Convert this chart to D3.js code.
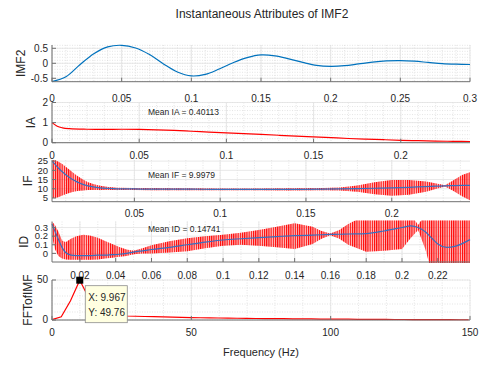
<!DOCTYPE html>
<html>
<head>
<meta charset="utf-8">
<script src="https://cdn.jsdelivr.net/npm/d3@7"></script>
<style>
    body { margin: 0; background: #fff; }
    text { font-family: "Liberation Sans", Arial, Helvetica, sans-serif; fill: #262626; }
</style>
</head>
<body>
<div id="chart"></div>
<script>
//IMF2 signal (time in s)
const imfTime = [0, 0.01, 0.02, 0.03, 0.04, 0.05, 0.06, 0.07, 0.08, 0.09, 0.10, 0.11, 0.12, 0.13, 0.14, 0.15,
    0.16, 0.17, 0.18, 0.19, 0.20, 0.21, 0.22, 0.23, 0.24, 0.25, 0.26, 0.27, 0.28, 0.29, 0.30];
const imfValue = [-0.61, -0.45, -0.05, 0.32, 0.55, 0.60, 0.51, 0.29, -0.02, -0.29, -0.42, -0.37, -0.19, 0.02, 0.19, 0.28,
    0.25, 0.15, 0.03, -0.07, -0.10, -0.08, -0.02, 0.04, 0.08, 0.09, 0.07, 0.03, -0.01, -0.03, -0.04];

//Instantaneous amplitude
const iaTime = [0, 0.003, 0.006, 0.01, 0.02, 0.03, 0.04, 0.05, 0.06, 0.07, 0.08, 0.09, 0.10, 0.11, 0.12, 0.13,
    0.14, 0.15, 0.16, 0.17, 0.18, 0.19, 0.20, 0.21, 0.22, 0.23, 0.2397];
const iaValue = [1.0, 0.82, 0.74, 0.70, 0.67, 0.66, 0.67, 0.66, 0.64, 0.61, 0.57, 0.53, 0.49, 0.45, 0.41, 0.37,
    0.33, 0.29, 0.25, 0.21, 0.18, 0.15, 0.12, 0.10, 0.08, 0.07, 0.06];

//Instantaneous frequency: smoothed line and the range of the raw oscillation
const ifTime = [0.002, 0.004, 0.006, 0.008, 0.010, 0.012, 0.014, 0.016, 0.018, 0.020, 0.023, 0.026, 0.030, 0.035,
    0.040, 0.050, 0.060, 0.080, 0.100, 0.120, 0.140, 0.160, 0.170, 0.180, 0.190, 0.200, 0.210, 0.220, 0.226,
    0.231, 0.236, 0.241, 0.2456];
const ifSmooth = [25, 23, 21, 19.2, 17.6, 16.2, 15, 14, 13.1, 12.4, 11.6, 11, 10.5, 10.2,
    10.0, 9.9, 9.8, 9.8, 9.7, 9.7, 9.7, 9.8, 9.9, 10.1, 10.3, 10.5, 10.8, 11.2, 11.4,
    11.6, 11.7, 11.8, 11.9];
const ifRawHigh = [25.6, 25.4, 24.5, 23.4, 22, 20.5, 19, 17.5, 16.2, 15, 13.6, 12.6, 11.6, 10.9,
    10.6, 10.4, 10.4, 10.3, 10.2, 10.2, 10.3, 10.4, 10.7, 11.8, 13.5, 14.8, 14.8, 14, 12.8,
    11.9, 14.6, 17.5, 19];
const ifRawLow = [5, 5, 5.6, 6.3, 7, 7.7, 8.2, 8.6, 8.9, 9.1, 9.3, 9.4, 9.4, 9.4,
    9.4, 9.3, 9.2, 9.2, 9.2, 9.2, 9.1, 9.2, 9.1, 8.4, 7.1, 6.2, 6.8, 8.4, 10,
    11.3, 8.8, 6, 3.8];

//Instantaneous damping
const idTime = [0.0044, 0.006, 0.008, 0.010, 0.012, 0.015, 0.018, 0.022, 0.026, 0.030, 0.034, 0.038, 0.042, 0.046,
    0.050, 0.055, 0.060, 0.070, 0.080, 0.090, 0.100, 0.110, 0.120, 0.130, 0.140, 0.150, 0.155, 0.160, 0.165,
    0.170, 0.180, 0.190, 0.200, 0.205, 0.209, 0.213, 0.217, 0.220, 0.225, 0.230, 0.238];
const idSmooth = [0.34, 0.26, 0.16, 0.07, 0.01, -0.02, -0.025, -0.025, -0.025, -0.02, -0.02, -0.015, -0.01, 0.0,
    0.015, 0.03, 0.045, 0.07, 0.10, 0.13, 0.155, 0.17, 0.183, 0.195, 0.205, 0.212, 0.216, 0.22, 0.222,
    0.225, 0.23, 0.26, 0.30, 0.32, 0.30, 0.25, 0.17, 0.11, 0.07, 0.085, 0.16];
const idRawHigh = [0.37, 0.33, 0.25, 0.15, 0.13, 0.17, 0.20, 0.215, 0.205, 0.18, 0.145, 0.11, 0.075, 0.045,
    0.03, 0.06, 0.095, 0.14, 0.175, 0.20, 0.215, 0.24, 0.27, 0.31, 0.35, 0.31, 0.26, 0.23, 0.27,
    0.34, 0.45, 0.48, 0.50, 0.45, 0.33, 0.45, 0.6, 0.6, 0.6, 0.6, 0.6];
const idRawLow = [0.20, 0.05, -0.03, -0.06, -0.07, -0.075, -0.075, -0.075, -0.075, -0.07, -0.06, -0.05, -0.04, -0.03,
    -0.01, 0.0, 0.0, 0.01, 0.025, 0.06, 0.09, 0.10, 0.09, 0.07, 0.05, 0.11, 0.17, 0.21, 0.17,
    0.10, 0.02, 0.03, 0.05, 0.18, 0.27, 0.05, -0.25, -0.3, -0.3, -0.3, -0.3];

//Spectrum of IMF2
const fftFreq = [0, 3.32, 6.64, 9.967, 13.29, 16.61, 19.93, 23.26, 26.58, 29.90, 33.22, 36.55, 39.87, 43.19,
    46.51, 49.83, 53.16, 56.48, 59.80, 63.12, 66.45, 69.77, 73.09, 76.41, 79.74, 83.06, 86.38, 89.70,
    93.03, 96.35, 99.67, 102.99, 106.32, 109.64, 112.96, 116.28, 119.60, 122.93, 126.25, 129.57,
    132.89, 136.22, 139.54, 142.86, 146.18, 149.51];
const fftValue = [0.5, 4, 24, 49.76, 27, 11, 7, 5.6, 5, 4.7, 4.4, 4.1, 3.8, 3.5,
    3.2, 3.0, 2.8, 2.6, 2.5, 2.3, 2.2, 2.0, 1.9, 1.8, 1.7, 1.6, 1.5, 1.4,
    1.3, 1.2, 1.15, 1.05, 1.0, 0.9, 0.85, 0.8, 0.7, 0.65, 0.6, 0.55,
    0.5, 0.45, 0.4, 0.35, 0.32, 0.3];

//Tick values
const imfXTicks = [0, 0.05, 0.1, 0.15, 0.2, 0.25, 0.3];
const imfYTicks = [-0.5, 0, 0.5];
const iaXTicks = [0, 0.05, 0.1, 0.15, 0.2];
const iaYTicks = [0, 1, 2];
const ifXTicks = [0.05, 0.1, 0.15, 0.2];
const ifYTicks = [5, 10, 15, 20, 25];
const idXTicks = [0.02, 0.04, 0.06, 0.08, 0.1, 0.12, 0.14, 0.16, 0.18, 0.2, 0.22];
const idYTicks = [0, 0.1, 0.2, 0.3];
const fftXTicks = [0, 50, 100, 150];
const fftYTicks = [0, 50];

const svg = d3.select("#chart").append("svg")
    .attr("width", 482)
    .attr("height", 365)
    .style("background", "#fff");

const defs = svg.append("defs");
//Dense red hatching for the raw oscillating traces
const hatch = defs.append("pattern")
    .attr("id", "red-hatch")
    .attr("patternUnits", "userSpaceOnUse")
    .attr("width", 2.2)
    .attr("height", 20);
hatch.append("rect")
    .attr("width", 1.1)
    .attr("height", 20)
    .attr("fill", "#ff0000");

const plotLeft = 52, plotRight = 470;
const red = "#ff0000", blue = "#0072bd";

function steps(lo, hi, step) {
    let n = Math.round((hi - lo) / step);
    return d3.range(n + 1).map(i => +(lo + i * step).toFixed(6));
}

function makePanel(cfg) {
    const x = d3.scaleLinear().domain(cfg.xDomain).range([plotLeft, plotRight]);
    const y = d3.scaleLinear().domain(cfg.yDomain).range([cfg.bottom, cfg.top]);
    const g = svg.append("g").attr("id", "panel-" + cfg.id);
    const inX = d => d >= cfg.xDomain[0] - 1e-9 && d <= cfg.xDomain[1] + 1e-9;
    const inY = d => d >= cfg.yDomain[0] - 1e-9 && d <= cfg.yDomain[1] + 1e-9;

    //Minor grid (dotted)
    g.selectAll(".x-minor")
        .data(cfg.xMinor.filter(inX))
        .enter().append("line")
        .attr("x1", d => x(d)).attr("x2", d => x(d))
        .attr("y1", cfg.top).attr("y2", cfg.bottom)
        .attr("stroke", "#d4d4d4").attr("stroke-width", 0.6)
        .attr("stroke-dasharray", "1,1.5");
    g.selectAll(".y-minor")
        .data(cfg.yMinor.filter(inY))
        .enter().append("line")
        .attr("x1", plotLeft).attr("x2", plotRight)
        .attr("y1", d => y(d)).attr("y2", d => y(d))
        .attr("stroke", "#d4d4d4").attr("stroke-width", 0.6)
        .attr("stroke-dasharray", "1,1.5");

    //Major grid
    g.selectAll(".x-major")
        .data(cfg.xTicks)
        .enter().append("line")
        .attr("x1", d => x(d)).attr("x2", d => x(d))
        .attr("y1", cfg.top).attr("y2", cfg.bottom)
        .attr("stroke", "#e2e2e2").attr("stroke-width", 0.8);
    g.selectAll(".y-major")
        .data(cfg.yTicks)
        .enter().append("line")
        .attr("x1", plotLeft).attr("x2", plotRight)
        .attr("y1", d => y(d)).attr("y2", d => y(d))
        .attr("stroke", "#e2e2e2").attr("stroke-width", 0.8);

    g.append("clipPath")
        .attr("id", "clip-" + cfg.id)
        .append("rect")
        .attr("x", plotLeft - 1)
        .attr("y", cfg.top - 1)
        .attr("width", plotRight - plotLeft + 2)
        .attr("height", cfg.bottom - cfg.top + 2);

    const data = g.append("g").attr("clip-path", "url(#clip-" + cfg.id + ")");
    const axes = g.append("g");

    //Axis lines and inward ticks
    axes.append("line")
        .attr("x1", plotLeft).attr("x2", plotRight)
        .attr("y1", cfg.bottom).attr("y2", cfg.bottom)
        .attr("stroke", "#707070");
    axes.append("line")
        .attr("x1", plotLeft).attr("x2", plotLeft)
        .attr("y1", cfg.top).attr("y2", cfg.bottom)
        .attr("stroke", "#707070");
    axes.selectAll(".x-tick")
        .data(cfg.xTicks)
        .enter().append("line")
        .attr("x1", d => x(d)).attr("x2", d => x(d))
        .attr("y1", cfg.bottom).attr("y2", cfg.bottom - 4)
        .attr("stroke", "#707070");
    axes.selectAll(".y-tick")
        .data(cfg.yTicks)
        .enter().append("line")
        .attr("x1", plotLeft).attr("x2", plotLeft + 4)
        .attr("y1", d => y(d)).attr("y2", d => y(d))
        .attr("stroke", "#707070");

    //Tick labels
    axes.selectAll(".x-label")
        .data(cfg.xTicks)
        .enter().append("text")
        .attr("x", d => x(d))
        .attr("y", cfg.xLabelY + 3.5)
        .attr("text-anchor", "middle")
        .style("font-size", "10px")
        .text(d => String(d));
    axes.selectAll(".y-label")
        .data(cfg.yTicks)
        .enter().append("text")
        .attr("x", plotLeft - 4)
        .attr("y", d => y(d) + 3.2)
        .attr("text-anchor", "end")
        .style("font-size", (cfg.yFont || 10) + "px")
        .text(d => String(d));

    //Y axis title
    axes.append("text")
        .attr("transform", "translate(" + cfg.titleX + "," + (cfg.top + cfg.bottom) / 2 + ") rotate(-90)")
        .attr("dy", "0.35em")
        .attr("text-anchor", "middle")
        .style("font-size", "12px")
        .text(cfg.label);

    return {x: x, y: y, data: data, axes: axes};
}

function rawTrace(p, time, high, low) {
    const area = d3.area()
        .x((d, i) => p.x(time[i]))
        .y0((d, i) => p.y(low[i]))
        .y1((d, i) => p.y(high[i]));
    p.data.append("path")
        .datum(time)
        .attr("d", area)
        .attr("fill", red)
        .attr("fill-opacity", 0.22);
    p.data.append("path")
        .datum(time)
        .attr("d", area)
        .attr("fill", "url(#red-hatch)");
}

function lineTrace(p, time, values, color, curve) {
    p.data.append("path")
        .datum(values)
        .attr("d", d3.line()
            .x((d, i) => p.x(time[i]))
            .y(d => p.y(d))
            .curve(curve || d3.curveLinear))
        .attr("fill", "none")
        .attr("stroke", color)
        .attr("stroke-width", 1.2);
}

function meanNote(p, yPos, label) {
    p.axes.append("text")
        .attr("x", 148)
        .attr("y", yPos)
        .style("font-size", "8.5px")
        .text(label);
}

//Title
svg.append("text")
    .attr("x", 262)
    .attr("y", 18)
    .attr("text-anchor", "middle")
    .style("font-size", "12px")
    .text("Instantaneous Attributes of IMF2");

//IMF2 panel
const imfPanel = makePanel({
    id: "imf", label: "IMF2", titleX: 21,
    top: 45, bottom: 81.7, xLabelY: 98,
    xDomain: [0, 0.3], yDomain: [-0.613, 0.61],
    xTicks: imfXTicks, yTicks: imfYTicks,
    xMinor: steps(0, 0.3, 0.01), yMinor: steps(-0.6, 0.6, 0.1)
});
lineTrace(imfPanel, imfTime, imfValue, blue, d3.curveCatmullRom);

//IA panel
const iaPanel = makePanel({
    id: "ia", label: "IA", titleX: 31,
    top: 102.5, bottom: 142.7, xLabelY: 155,
    xDomain: [0, 0.2397], yDomain: [0, 2],
    xTicks: iaXTicks, yTicks: iaYTicks,
    xMinor: steps(0, 0.23, 0.01), yMinor: steps(0, 2, 0.2)
});
lineTrace(iaPanel, iaTime, iaValue, red, d3.curveMonotoneX);
meanNote(iaPanel, 115, "Mean IA = 0.40113");

//IF panel
const ifPanel = makePanel({
    id: "if", label: "IF", titleX: 28, yFont: 9.5,
    top: 160, bottom: 201.7, xLabelY: 213,
    xDomain: [0.002, 0.2456], yDomain: [3, 25.6],
    xTicks: ifXTicks, yTicks: ifYTicks,
    xMinor: steps(0.01, 0.24, 0.01), yMinor: []
});
rawTrace(ifPanel, ifTime, ifRawHigh, ifRawLow);
lineTrace(ifPanel, ifTime, ifSmooth, "#3a6fbf", d3.curveMonotoneX);
meanNote(ifPanel, 178, "Mean IF = 9.9979");

//ID panel
const idPanel = makePanel({
    id: "id", label: "ID", titleX: 24, yFont: 9.5,
    top: 221.5, bottom: 262, xLabelY: 275,
    xDomain: [0.0044, 0.238], yDomain: [-0.1, 0.37],
    xTicks: idXTicks, yTicks: idYTicks,
    xMinor: steps(0.01, 0.23, 0.01), yMinor: []
});
rawTrace(idPanel, idTime, idRawHigh, idRawLow);
lineTrace(idPanel, idTime, idSmooth, "#3a6fbf", d3.curveMonotoneX);
meanNote(idPanel, 232, "Mean ID = 0.14741");

//FFT panel
const fftPanel = makePanel({
    id: "fft", label: "FFTofIMF", titleX: 28,
    top: 280, bottom: 320, xLabelY: 332,
    xDomain: [0, 150], yDomain: [0, 50],
    xTicks: fftXTicks, yTicks: fftYTicks,
    xMinor: steps(0, 150, 10), yMinor: steps(0, 50, 10)
});
lineTrace(fftPanel, fftFreq, fftValue, red);

//X axis title
svg.append("text")
    .attr("x", 261)
    .attr("y", 356)
    .attr("text-anchor", "middle")
    .style("font-size", "11px")
    .text("Frequency (Hz)");

//Data tip on the spectrum peak
const peakIndex = d3.maxIndex(fftValue);
const peakX = fftPanel.x(fftFreq[peakIndex]);
const peakY = fftPanel.y(fftValue[peakIndex]);
const tip = svg.append("g");
tip.append("rect")
    .attr("x", peakX + 5.5)
    .attr("y", peakY + 5.5)
    .attr("width", 42)
    .attr("height", 37)
    .attr("fill", "#ffffe1")
    .attr("stroke", "#8c8c8c")
    .attr("stroke-width", 0.8);
tip.append("text")
    .attr("x", peakX + 8.5)
    .attr("y", peakY + 20.5)
    .style("font-size", "10px")
    .text("X: " + fftFreq[peakIndex]);
tip.append("text")
    .attr("x", peakX + 8.5)
    .attr("y", peakY + 36)
    .style("font-size", "10px")
    .text("Y: " + fftValue[peakIndex]);
tip.append("rect")
    .attr("x", peakX - 3.5)
    .attr("y", peakY - 3.5)
    .attr("width", 7)
    .attr("height", 7)
    .attr("fill", "#000");
</script>
</body>
</html>
